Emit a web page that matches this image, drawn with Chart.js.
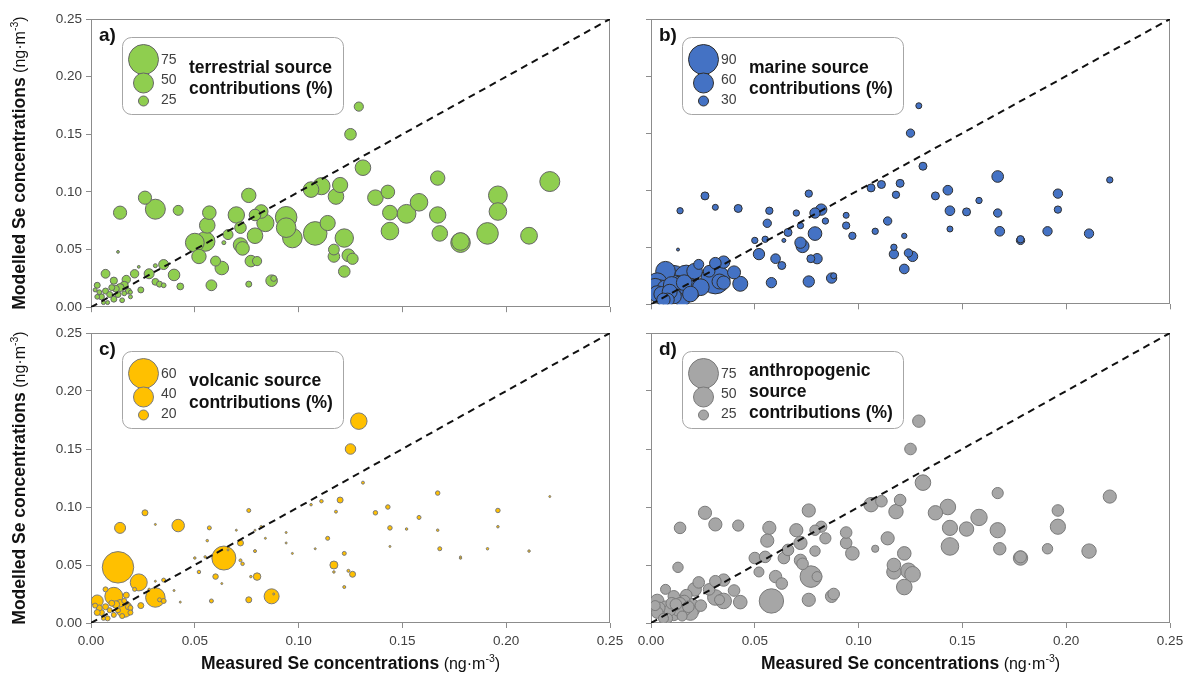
<!DOCTYPE html>
<html>
<head>
<meta charset="utf-8">
<title>Se source contributions</title>
<script src="https://cdn.jsdelivr.net/npm/chart.js@4.4.1/dist/chart.umd.min.js"></script>
<style>
  html, body { margin: 0; padding: 0; background: #fff; }
  #wrap { position: relative; width: 1190px; height: 677px; overflow: hidden; }
  #wrap canvas { position: absolute; }
</style>
</head>
<body>
<div id="wrap">
  <canvas id="panel-a" width="640" height="320" style="left:0;top:0"></canvas>
  <canvas id="panel-b" width="640" height="320" style="left:560px;top:0"></canvas>
  <canvas id="panel-c" width="640" height="363" style="left:0;top:314px"></canvas>
  <canvas id="panel-d" width="640" height="363" style="left:560px;top:314px"></canvas>
</div>
<script>
// Se concentrations per sample (ng m-3)
const measured = [
  0.129, 0.125, 0.131, 0.167, 0.221, 0.196, 0.196, 0.191, 0.211, 0.178,
  0.178, 0.168, 0.167, 0.158, 0.152, 0.144, 0.144, 0.143, 0.137, 0.122,
  0.124, 0.126, 0.122, 0.106, 0.111, 0.120, 0.118, 0.114, 0.108, 0.097,
  0.094, 0.094, 0.117, 0.117, 0.076, 0.057, 0.056, 0.050, 0.055, 0.052,
  0.064, 0.066, 0.070, 0.072, 0.072, 0.073, 0.079, 0.082, 0.079, 0.084,
  0.077, 0.080, 0.076, 0.060, 0.063, 0.058, 0.087, 0.088, 0.026, 0.031,
  0.014, 0.042, 0.013, 0.035, 0.028, 0.040, 0.043, 0.023, 0.031, 0.031,
  0.033, 0.035, 0.024, 0.007, 0.011, 0.017, 0.016, 0.021, 0.014, 0.003,
  0.007, 0.005, 0.008, 0.011, 0.013, 0.016, 0.009, 0.004, 0.003, 0.006,
  0.010, 0.012, 0.015, 0.002, 0.018, 0.019, 0.019
];
const modelled = [
  0.174, 0.150, 0.121, 0.112, 0.109, 0.097, 0.083, 0.064, 0.062, 0.056,
  0.057, 0.064, 0.080, 0.091, 0.081, 0.082, 0.066, 0.100, 0.095, 0.060,
  0.045, 0.042, 0.031, 0.102, 0.105, 0.106, 0.096, 0.073, 0.064, 0.060,
  0.069, 0.078, 0.050, 0.044, 0.097, 0.082, 0.071, 0.056, 0.057, 0.044,
  0.056, 0.063, 0.080, 0.069, 0.054, 0.051, 0.080, 0.083, 0.062, 0.073,
  0.040, 0.040, 0.020, 0.040, 0.034, 0.019, 0.023, 0.025, 0.095, 0.085,
  0.082, 0.084, 0.048, 0.037, 0.029, 0.028, 0.018, 0.035, 0.036, 0.022,
  0.020, 0.019, 0.015, 0.029, 0.023, 0.024, 0.019, 0.029, 0.017, 0.019,
  0.014, 0.009, 0.004, 0.007, 0.011, 0.012, 0.011, 0.013, 0.009, 0.004,
  0.017, 0.016, 0.006, 0.015, 0.014, 0.013, 0.009
];

// source contributions (%) per sample
const terrestrial = [
  23, 29, 39, 36, 50, 47, 44, 54, 42, 49,
  44, 39, 41, 44, 47, 37, 44, 34, 39, 46,
  32, 28, 29, 39, 43, 38, 39, 38, 59, 49,
  49, 54, 27, 29, 36, 34, 39, 47, 49, 36,
  10, 25, 41, 29, 36, 34, 29, 34, 39, 43,
  29, 23, 15, 25, 34, 27, 29, 15, 33, 50,
  33, 25, 7, 25, 25, 29, 17, 7, 10, 17,
  15, 12, 15, 22, 18, 21, 20, 21, 20, 15,
  15, 15, 10, 15, 15, 12, 15, 12, 12, 10,
  15, 17, 12, 10, 15, 10, 10
];
const marine = [
  18, 25, 24, 35, 19, 28, 22, 28, 28, 25,
  22, 29, 25, 19, 24, 29, 18, 29, 24, 16,
  25, 31, 29, 24, 24, 24, 22, 25, 19, 22,
  22, 18, 19, 28, 22, 22, 25, 19, 19, 34,
  12, 24, 19, 19, 34, 39, 31, 34, 41, 19,
  24, 31, 34, 29, 24, 31, 31, 18, 24, 18,
  19, 24, 9, 37, 35, 39, 45, 30, 35, 88,
  45, 40, 50, 59, 76, 71, 47, 47, 53, 59,
  50, 45, 40, 45, 53, 53, 45, 59, 50, 40,
  50, 65, 53, 53, 53, 65, 47
];
const volcanic = [
  33, 21, 6, 9, 4, 9, 5, 5, 5, 5,
  4, 8, 5, 8, 5, 9, 4, 9, 9, 8,
  6, 12, 6, 5, 7, 12, 6, 8, 4, 4,
  4, 4, 16, 5, 8, 8, 5, 5, 5, 7,
  48, 4, 4, 12, 6, 7, 4, 5, 6, 4,
  5, 15, 12, 11, 4, 8, 30, 4, 12, 4,
  22, 25, 63, 8, 5, 4, 4, 34, 4, 39,
  8, 10, 12, 10, 36, 12, 10, 8, 15, 24,
  12, 12, 10, 10, 10, 33, 10, 12, 12, 8,
  12, 15, 10, 10, 12, 10, 10
];
const anthropogenic = [
  31, 29, 39, 28, 33, 29, 38, 26, 36, 36,
  30, 31, 38, 41, 36, 38, 44, 39, 36, 34,
  39, 39, 39, 36, 29, 29, 36, 33, 18, 34,
  29, 29, 34, 36, 33, 33, 33, 29, 29, 25,
  29, 29, 33, 33, 31, 29, 26, 28, 26, 28,
  54, 25, 33, 31, 29, 61, 31, 29, 33, 33,
  29, 28, 26, 31, 29, 29, 34, 29, 29, 39,
  25, 39, 29, 25, 29, 29, 29, 34, 29, 34,
  29, 29, 25, 29, 29, 34, 29, 29, 29, 25,
  29, 29, 25, 25, 29, 49, 39
];

const axisTicks = [0, 0.05, 0.10, 0.15, 0.20, 0.25];
const oneToOne = [0, 0.25];

// size key entries (%)
const keyTerrestrial = [75, 50, 25];
const keyMarine = [90, 60, 30];
const keyVolcanic = [60, 40, 20];
const keyAnthropogenic = [75, 50, 25];

const FONT = '"Liberation Sans", Arial, Helvetica, sans-serif';
const MAX_R = 15; // radius of the largest key bubble, px

function bubbleRadius(pct, keyMax) {
  return pct * MAX_R / keyMax;
}

function drawRuns(ctx, runs, cx, cy) {
  // centred run of text pieces with their own fonts / offsets
  let total = 0;
  runs.forEach(r => { ctx.font = r.font; r.w = ctx.measureText(r.text).width; total += r.w; });
  let x = cx - total / 2;
  ctx.textAlign = 'left';
  ctx.textBaseline = 'middle';
  runs.forEach(r => {
    ctx.font = r.font;
    ctx.fillText(r.text, x, cy + (r.dy || 0));
    x += r.w;
  });
}

function titleRuns(word) {
  return [
    { text: word + ' Se concentrations', font: 'bold 17.5px ' + FONT },
    { text: ' (ng\u00b7m', font: '16px ' + FONT, dy: 1 },
    { text: '-3', font: '10.5px ' + FONT, dy: -5 },
    { text: ')', font: '16px ' + FONT, dy: 1 }
  ];
}

// frame around the plot area
const framePlugin = {
  id: 'frame',
  beforeDatasetsDraw(chart) {
    const { ctx, chartArea: a } = chart;
    ctx.save();
    ctx.strokeStyle = '#8c8c8c';
    ctx.lineWidth = 1;
    ctx.strokeRect(Math.round(a.left) + 0.5, Math.round(a.top) + 0.5,
      Math.round(a.right - a.left) - 1, Math.round(a.bottom - a.top) - 1);
    ctx.restore();
  }
};

// panel tag + bubble size key
const sizeKeyPlugin = {
  id: 'sizeKey',
  afterDatasetsDraw(chart, args, o) {
    const { ctx, chartArea: a } = chart;
    ctx.save();
    ctx.fillStyle = '#111';
    ctx.font = 'bold 19px ' + FONT;
    ctx.textAlign = 'left';
    ctx.textBaseline = 'middle';
    ctx.fillText(o.tag, a.left + 8, a.top + 17);

    const bx = a.left + 31, by = a.top + 18, bw = 221, bh = 77;
    ctx.beginPath();
    ctx.roundRect(bx + 0.5, by + 0.5, bw, bh, 9);
    ctx.fillStyle = '#fff';
    ctx.fill();
    ctx.strokeStyle = '#a6a6a6';
    ctx.lineWidth = 1;
    ctx.stroke();

    const circleY = [22.5, 46, 64];
    const numY = [23, 43.5, 63];
    o.values.forEach((v, i) => {
      ctx.beginPath();
      ctx.arc(bx + 21.5, by + circleY[i], bubbleRadius(v, o.values[0]), 0, Math.PI * 2);
      ctx.fillStyle = o.fill;
      ctx.fill();
      ctx.strokeStyle = o.edge;
      ctx.stroke();
      ctx.fillStyle = '#404040';
      ctx.font = '14px ' + FONT;
      ctx.fillText(String(v), bx + 39, by + numY[i]);
    });

    ctx.fillStyle = '#111';
    ctx.font = 'bold 17.5px ' + FONT;
    o.lines.forEach((t, i) => ctx.fillText(t, bx + 67, by + o.lineY[i]));
    ctx.restore();
  }
};

// axis titles with bold / regular / superscript parts
const axisTitlePlugin = {
  id: 'axisTitles',
  afterDraw(chart, args, o) {
    const { ctx, chartArea: a } = chart;
    ctx.save();
    ctx.fillStyle = '#111';
    if (o.y) {
      ctx.translate(20, (a.top + a.bottom) / 2);
      ctx.rotate(-Math.PI / 2);
      drawRuns(ctx, titleRuns('Modelled'), 0, 0);
      ctx.setTransform(1, 0, 0, 1, 0, 0);
    }
    if (o.x) {
      drawRuns(ctx, titleRuns('Measured'), (a.left + a.right) / 2, a.bottom + 41);
    }
    ctx.restore();
  }
};

function makePanel(id, cfg) {
  const keyMax = cfg.key[0];
  const points = measured
    .map((x, i) => ({ x: x, y: modelled[i], r: bubbleRadius(cfg.pct[i], keyMax) }))
    .sort((p, q) => q.r - p.r);

  const tickFont = { family: FONT, size: 13.5 };
  const grid = { drawOnChartArea: false, drawTicks: true, tickLength: 5, color: '#8c8c8c', lineWidth: 1 };

  return new Chart(document.getElementById(id), {
    type: 'bubble',
    data: {
      datasets: [
        {
          type: 'line',
          data: oneToOne.map(v => ({ x: v, y: v })),
          borderColor: '#111',
          borderWidth: 2,
          borderDash: [7, 5],
          pointRadius: 0,
          fill: false
        },
        {
          data: points,
          backgroundColor: cfg.fill,
          borderColor: cfg.edge,
          borderWidth: 1
        }
      ]
    },
    options: {
      responsive: false,
      animation: false,
      events: [],
      layout: { padding: { left: 0, top: 19, right: 30, bottom: 0 } },
      plugins: {
        legend: { display: false },
        tooltip: { enabled: false },
        sizeKey: { tag: cfg.tag, values: cfg.key, lines: cfg.lines, lineY: cfg.lineY, fill: cfg.fill, edge: cfg.edge },
        axisTitles: { x: cfg.xLabels, y: cfg.yLabels }
      },
      scales: {
        x: {
          type: 'linear',
          min: 0,
          max: 0.25,
          afterBuildTicks: s => { s.ticks = axisTicks.map(v => ({ value: v })); },
          afterFit: s => {
            s.height = cfg.xLabels ? 54 : 10;
            s.paddingLeft = 0;
            s.paddingRight = 0;
          },
          ticks: { display: cfg.xLabels, font: tickFont, color: '#404040', padding: 5, maxRotation: 0, callback: v => v.toFixed(2) },
          grid: grid,
          border: { display: false }
        },
        y: {
          type: 'linear',
          min: 0,
          max: 0.25,
          afterBuildTicks: s => { s.ticks = axisTicks.map(v => ({ value: v })); },
          afterFit: s => {
            s.width = 91;
            s.paddingTop = 0;
            s.paddingBottom = 0;
          },
          ticks: { display: cfg.yLabels, font: tickFont, color: '#404040', padding: 4, callback: v => v.toFixed(2) },
          grid: grid,
          border: { display: false }
        }
      }
    },
    plugins: [framePlugin, sizeKeyPlugin, axisTitlePlugin]
  });
}

makePanel('panel-a', {
  tag: 'a)', pct: terrestrial, key: keyTerrestrial,
  lines: ['terrestrial source', 'contributions (%)'], lineY: [31, 52],
  fill: '#8fce4f', edge: '#666666', xLabels: false, yLabels: true
});
makePanel('panel-b', {
  tag: 'b)', pct: marine, key: keyMarine,
  lines: ['marine source', 'contributions (%)'], lineY: [31, 52],
  fill: '#4472c4', edge: '#2f2f2f', xLabels: false, yLabels: false
});
makePanel('panel-c', {
  tag: 'c)', pct: volcanic, key: keyVolcanic,
  lines: ['volcanic source', 'contributions (%)'], lineY: [30, 52],
  fill: '#ffc000', edge: '#7a7a7a', xLabels: true, yLabels: true
});
makePanel('panel-d', {
  tag: 'd)', pct: anthropogenic, key: keyAnthropogenic,
  lines: ['anthropogenic', 'source', 'contributions (%)'], lineY: [20, 41.5, 62],
  fill: '#a6a6a6', edge: '#7a7a7a', xLabels: true, yLabels: false
});
</script>
</body>
</html>
